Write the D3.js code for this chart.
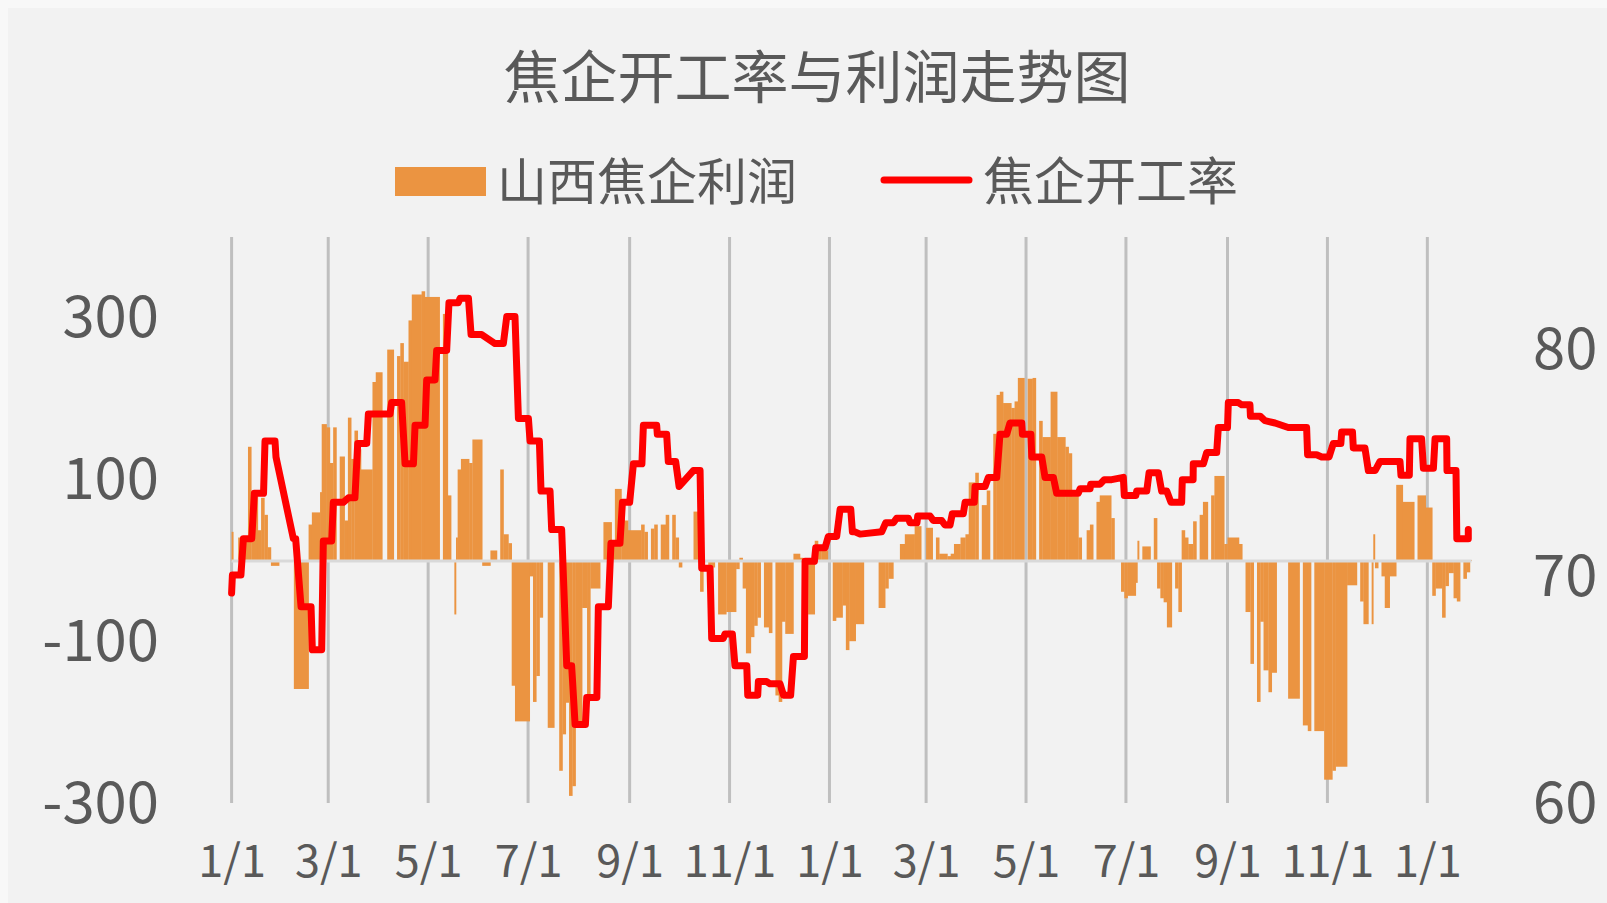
<!DOCTYPE html>
<html><head><meta charset="utf-8">
<script src="https://cdn.jsdelivr.net/npm/d3@7"></script>
<style>
html,body{margin:0;padding:0;background:#f8f8f8;}
svg{display:block;}
text{font-family:"Noto Sans CJK SC","Noto Sans",sans-serif;fill:#595959;}
</style></head>
<body>
<svg id="chart" width="1607" height="903"></svg>
<script>
// ---------- DATA ----------
const title = "焦企开工率与利润走势图";
const seriesNames = ["山西焦企利润", "焦企开工率"];
const startDate = Date.UTC(2018, 0, 1);
const endDay = 757;
const leftTicks = [-300, -100, 100, 300];
const rightTicks = [60, 70, 80];

// profit: each segment starts at profitDay[i] (days after start) and lasts to the next start
const profitDay = [0,1,4,10,12,16,18,20,22,24,29,38,47,49,54,55,58,60,62,64,66,69,71,73,75,77,79,86,88,92,95,99,101,103,105,108,110,116,118,
127,129,132,134,136,137,138,140,145,147,153,158,162,164,166,169,171,173,182,184,186,188,190,193,197,200,202,204,206,208,210,214,217,219,225,227,232,234,238,240,242,250,
252,254,256,258,260,262,265,267,269,271,273,275,282,285,286,288,291,295,297,302,308,310,312,314,317,319,321,323,325,328,330,332,334,336,338,343,347,349,352,356,358,360,364,367,369,373,375,377,
381,386,395,399,401,404,408,411,417,421,424,428,430,432,437,439,441,445,448,450,454,456,458,461,463,465,467,469,471,476,478,480,484,486,489,491,493,495,500,504,
509,511,513,517,519,522,524,526,528,530,537,539,543,545,547,552,553,554,556,561,563,565,567,569,571,574,576,578,580,582,584,587,589,591,593,596,598,600,606,608,615,617,619,622,624,626,628,630,633,635,
638,645,652,654,657,659,661,667,672,674,681,687,689,691,694,696,697,698,700,702,704,707,711,715,722,724,729,733,735,739,741,743,746,748,750,752,754,756];
const profitValue = [36,0,29,141,80,38,78,57,17,-6,0,-158,45,60,85,169,165,121,165,0,129,50,177,126,161,138,113,221,233,0,261,0,253,269,246,297,329,333,326,
0,305,81,0,-66,29,113,126,121,150,-6,13,0,113,33,22,-154,-198,-19,-174,-142,-70,0,-206,0,-259,-214,-175,-290,-278,-204,-58,-173,-34,0,48,22,89,69,50,38,45,
36,0,40,45,0,45,57,0,57,29,-8,0,61,0,-38,0,-8,0,-66,-63,-10,4,-34,-114,-94,-80,-70,0,-82,-89,0,-166,-174,-75,-90,9,4,0,-66,25,16,13,0,-74,-70,-55,-110,-99,
-78,0,-58,-34,-22,0,21,33,43,0,41,0,29,9,6,9,21,29,33,97,109,0,69,87,0,157,205,209,195,189,197,226,0,225,226,0,173,153,209,153,
141,133,80,29,0,38,45,0,73,81,53,0,-38,-46,-43,-27,25,0,18,0,53,-34,-46,-51,-82,0,-34,-63,38,29,21,49,0,57,73,0,81,105,21,29,21,0,-63,-127,0,-174,-75,-135,-162,-138,
0,-170,0,-203,-210,0,-210,-270,-259,-254,-30,0,-50,-78,0,-78,33,-9,0,-19,-58,-19,94,73,0,81,66,-43,-34,-70,-31,-15,-46,-50,0,-22,-14,1];

// operating rate (%): vertices of the line
const rateDay = [0,0.5,5.7,7.2,12.3,13.9,19.5,20.4,26.5,27.1,37.7,39.1,42.4,48.5,49.3,55,56,61.1,62.1,68.2,71.3,75.3,77,82.5,83.5,96.7,97.7,103.8,105.9,111,112,118.1,119.1,124.2,
125.2,131.3,132.7,138.4,139.5,144.6,146.2,152.7,158.8,160.8,165.9,168,173,175.1,181.2,182.2,187.9,188.9,194.4,195.4,201.5,204.6,207.6,209.7,216,216.8,223,223.9,230,231.6,237.1,238.6,243,245.3,250.5,251.4,
259.5,259.9,265.6,266.6,271.1,273.2,281.9,286,287,292.1,293.1,300.2,301.2,305.7,307.3,314.5,315.1,321.2,321.6,326.7,328.7,334.8,336.9,341.3,343,349.7,350.1,355.8,356.6,362.3,364.3,369.4,371.5,378,379,
380.6,383.7,396.9,399.3,404,406,413.2,414.2,418.4,418.9,426.4,428.4,433.5,435.5,438.6,440,446.7,447.8,453.4,453.9,460,462,467.1,469.1,473.2,475.2,482.4,482.8,488,488.5,494.6,496.6,501.7,503.7,508.8,
516.9,518,524.1,524.5,530.2,532.8,537.3,544.4,545,552,552.6,558.7,560.1,565.8,567.8,570.9,573.5,580,580.4,587,587.1,593.3,595.3,601.4,602.4,608,608.5,614.6,616.7,621.7,622,627.9,630.9,637,
645.1,656.3,656.9,662.4,665.5,670,672.6,677.2,677.7,684.3,684.8,691.9,694,698.1,701.1,713.3,713.9,719,719.4,726.5,727.6,733.7,734.7,741.8,742,747.5,748,755,755];
const rateValue = [69.3,70.1,70.1,71.7,71.7,73.7,73.7,76.0,76.0,75.3,71.7,71.7,68.7,68.7,66.8,66.8,71.6,71.6,73.3,73.3,73.5,73.5,75.9,75.9,77.2,77.2,77.7,77.7,75.0,75.0,76.7,76.7,78.7,78.7,
80.0,80.0,82.1,82.1,82.3,82.3,80.7,80.7,80.4,80.3,80.3,81.5,81.5,77.0,77.0,76.0,76.0,73.8,73.8,72.1,72.1,66.1,66.1,63.5,63.5,64.7,64.7,68.7,68.7,71.5,71.5,73.3,73.3,75.0,75.0,76.7,
76.7,76.3,76.3,75.1,75.1,74.0,74.7,74.7,70.4,70.4,67.3,67.3,67.5,67.5,66.1,66.1,64.8,64.8,65.4,65.4,65.3,65.3,64.8,64.8,66.5,66.5,70.7,70.7,71.3,71.3,71.8,71.8,73.0,73.0,72.0,
72.0,71.9,72.0,72.4,72.4,72.6,72.6,72.4,72.4,72.7,72.7,72.5,72.5,72.3,72.3,72.8,72.8,73.3,73.3,74.0,74.0,74.4,74.4,76.3,76.3,76.8,76.8,76.3,76.3,75.3,75.3,74.4,74.4,73.7,73.7,
73.7,73.9,73.9,74.1,74.1,74.3,74.3,74.4,73.6,73.6,73.8,73.8,74.6,74.6,73.8,73.8,73.3,73.3,74.3,74.3,75.0,75.0,75.5,75.5,76.6,76.6,77.7,77.7,77.6,77.6,77.1,77.1,76.9,76.8,
76.6,76.6,75.4,75.4,75.3,75.3,75.9,75.9,76.4,76.4,75.7,75.7,74.7,74.7,75.1,75.1,74.5,74.5,76.1,76.1,74.8,74.8,76.1,76.1,74.7,74.7,71.7,71.7,72.1];

// ---------- CHART ----------
const svg = d3.select("#chart");
const dayToDate = d => new Date(startDate + d * 864e5);
const font = '"Noto Sans CJK SC","Noto Sans",sans-serif';

const plot = {left: 231.6, right: 231.6 + endDay * 1.638, top: 237, bottom: 804};
const x = d3.scaleUtc().domain([dayToDate(0), dayToDate(endDay)]).range([plot.left, plot.right]);
const yL = d3.scaleLinear().domain([-300, 400]).range([plot.bottom, plot.top]);
const yR = d3.scaleLinear().domain([60, 85]).range([plot.bottom, plot.top]);

svg.append("rect").attr("x", 8).attr("y", 8).attr("width", 1599).attr("height", 895).attr("fill", "#f2f2f2");

// title
svg.append("text").attr("x", 817).attr("y", 98).attr("text-anchor", "middle")
  .attr("font-size", 57).text(title);

// legend
const leg = svg.append("g");
leg.append("rect").attr("x", 395).attr("y", 167).attr("width", 91).attr("height", 29).attr("fill", "#eb9441");
leg.append("text").attr("x", 497).attr("y", 200).attr("font-size", 50).text(seriesNames[0]);
leg.append("line").attr("x1", 884).attr("x2", 969).attr("y1", 180).attr("y2", 180)
  .attr("stroke", "#ff0000").attr("stroke-width", 7).attr("stroke-linecap", "round");
leg.append("text").attr("x", 983).attr("y", 200).attr("font-size", 51).text(seriesNames[1]);

// vertical gridlines every 2 months
const monthTicks = x.ticks(d3.utcMonth.every(2));
svg.append("g").selectAll("line").data(monthTicks).join("line")
  .attr("x1", d => x(d)).attr("x2", d => x(d))
  .attr("y1", plot.top).attr("y2", plot.bottom - 1)
  .attr("stroke", "#bfbfbf").attr("stroke-width", 3);

// bars
const segs = profitDay.map((d, i) => ({d0: d, d1: i + 1 < profitDay.length ? profitDay[i + 1] : endDay, v: profitValue[i]}))
  .filter(s => s.v !== 0);
svg.append("g").selectAll("rect").data(segs).join("rect")
  .attr("x", s => x(dayToDate(s.d0)))
  .attr("width", s => x(dayToDate(s.d1)) - x(dayToDate(s.d0)) + 0.3)
  .attr("y", s => Math.min(yL(0), yL(s.v)))
  .attr("height", s => Math.abs(yL(s.v) - yL(0)))
  .attr("fill", "#eb9441");

// zero line
svg.append("line").attr("x1", plot.left).attr("x2", plot.right)
  .attr("y1", yL(0)).attr("y2", yL(0)).attr("stroke", "#d9d9d9").attr("stroke-width", 3);

// rate line
const pts = rateDay.map((d, i) => [dayToDate(d), rateValue[i]]);
svg.append("path").datum(pts)
  .attr("d", d3.line().x(p => x(p[0])).y(p => yR(p[1])))
  .attr("fill", "none").attr("stroke", "#ff0000").attr("stroke-width", 7)
  .attr("stroke-linejoin", "round").attr("stroke-linecap", "round");

// axes
const axL = svg.append("g").attr("transform", "translate(165,0)")
  .call(d3.axisLeft(yL).tickValues(leftTicks).tickFormat(d => String(d)).tickSize(0).tickPadding(6));
const axR = svg.append("g").attr("transform", "translate(1527,0)")
  .call(d3.axisRight(yR).tickValues(rightTicks).tickFormat(d => String(d)).tickSize(0).tickPadding(6));
const axB = svg.append("g").attr("transform", `translate(0,${plot.bottom})`)
  .call(d3.axisBottom(x).tickValues(monthTicks).tickFormat(d3.utcFormat("%-m/%-d")).tickSize(0).tickPadding(41));
[axL, axR].forEach(a => a.selectAll("text").attr("font-size", 58));
axB.selectAll("text").attr("font-size", 45);
[axL, axR, axB].forEach(a => {
  a.select(".domain").remove();
  a.selectAll("text").attr("fill", "#595959").style("font-family", font);
});
</script>
</body></html>
